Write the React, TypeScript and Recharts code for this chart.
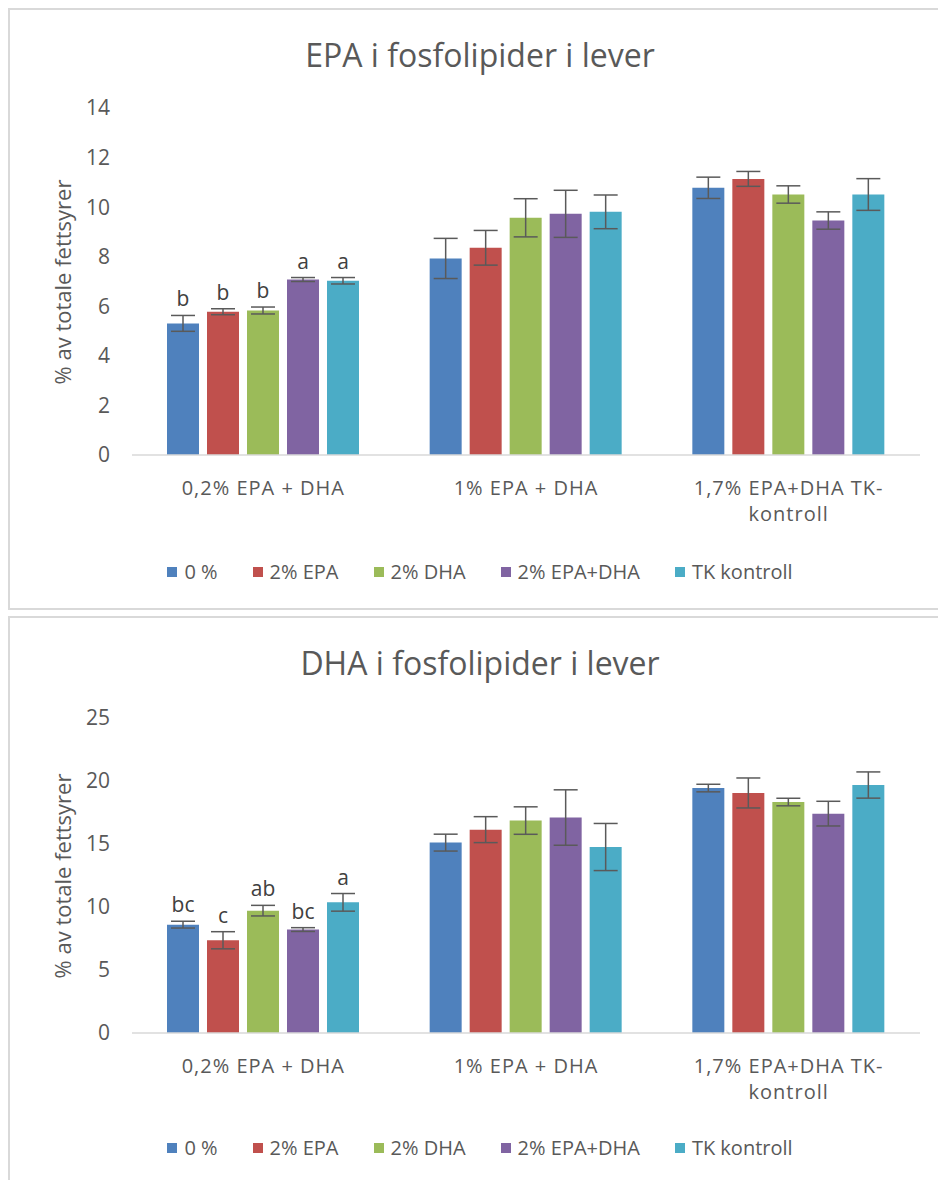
import React from "react";
import { BarChart, Bar, XAxis, YAxis, ErrorBar, LabelList, Legend } from "recharts";

const categories = ["0,2% EPA + DHA", "1% EPA + DHA", "1,7% EPA+DHA TK-kontroll"];
const seriesNames = ["0 %", "2% EPA", "2% DHA", "2% EPA+DHA", "TK kontroll"];
const seriesColors = ["#4F81BD", "#C0504D", "#9BBB59", "#8064A2", "#4BACC6"];

// one row per series, one value per category
const epaMeans = [
  [5.31, 7.93, 10.78],
  [5.78, 8.36, 11.14],
  [5.83, 9.57, 10.51],
  [7.08, 9.73, 9.46],
  [7.03, 9.81, 10.51],
];
const epaErrors = [
  [0.32, 0.81, 0.43],
  [0.12, 0.7, 0.3],
  [0.14, 0.77, 0.35],
  [0.08, 0.95, 0.35],
  [0.13, 0.68, 0.64],
];
const epaLetters = [
  ["b", "", ""],
  ["b", "", ""],
  ["b", "", ""],
  ["a", "", ""],
  ["a", "", ""],
];
const epaTicks = [0, 2, 4, 6, 8, 10, 12, 14];

const dhaMeans = [
  [8.6, 15.11, 19.44],
  [7.36, 16.14, 19.05],
  [9.71, 16.86, 18.33],
  [8.21, 17.1, 17.41],
  [10.37, 14.76, 19.68],
];
const dhaErrors = [
  [0.27, 0.67, 0.3],
  [0.68, 1.03, 1.19],
  [0.42, 1.09, 0.3],
  [0.15, 2.2, 0.98],
  [0.7, 1.87, 1.04],
];
const dhaLetters = [
  ["bc", "", ""],
  ["c", "", ""],
  ["ab", "", ""],
  ["bc", "", ""],
  ["a", "", ""],
];
const dhaTicks = [0, 5, 10, 15, 20, 25];

const FONT = "'Open Sans', sans-serif";
const TEXT = "#595959";

function buildRows(means: number[][], errs: number[][], letters: string[][]) {
  return categories.map((cat, ci) => {
    const row: Record<string, string | number> = { cat };
    seriesNames.forEach((_, si) => {
      row[`v${si}`] = means[si][ci];
      row[`e${si}`] = errs[si][ci];
      row[`l${si}`] = letters[si][ci];
    });
    return row;
  });
}

function CatTick({ x, y, payload }: any) {
  const lines = String(payload.value).split(/(?<=-)/);
  return (
    <text
      x={x}
      y={y}
      textAnchor="middle"
      fill={TEXT}
      fontSize={20}
      fontFamily={FONT}
      style={{ letterSpacing: 1 }}
    >
      {lines.map((l, i) => (
        <tspan key={i} x={x} dy={i === 0 ? 40 : 26}>
          {l}
        </tspan>
      ))}
    </text>
  );
}

function LegendRow({ payload }: any) {
  // keep the series order (Recharts sorts the payload by name)
  const items = [...(payload || [])].sort(
    (a: any, b: any) => seriesNames.indexOf(a.value) - seriesNames.indexOf(b.value)
  );
  return (
    <div style={{ display: "flex", justifyContent: "center", fontFamily: FONT, fontSize: 20, color: TEXT }}>
      {items.map((p: any, i: number) => (
        <span
          key={i}
          style={{ display: "inline-flex", alignItems: "center", marginRight: i < items.length - 1 ? 35 : 0 }}
        >
          <span style={{ width: 10, height: 10, background: p.color, marginRight: 7, display: "inline-block" }} />
          {p.value}
        </span>
      ))}
    </div>
  );
}

interface PanelProps {
  title: string;
  top: number;
  height: number;
  means: number[][];
  errs: number[][];
  letters: string[][];
  ticks: number[];
  plotTop: number;
  plotBottom: number;
  legendTop: number;
}

function Panel({ title, top, height, means, errs, letters, ticks, plotTop, plotBottom, legendTop }: PanelProps) {
  const rows = buildRows(means, errs, letters);
  const W = 940;
  return (
    <div
      style={{
        position: "absolute",
        left: 8,
        top,
        width: W,
        height,
        border: "2px solid #d9d9d9",
        background: "#fff",
      }}
    >
      <div
        style={{
          position: "absolute",
          left: 0,
          top: 25,
          width: W,
          textAlign: "center",
          fontFamily: FONT,
          fontSize: 32,
          lineHeight: "40px",
          color: TEXT,
        }}
      >
        {title}
      </div>
      <div
        style={{
          position: "absolute",
          left: 52,
          top: (plotTop + plotBottom) / 2,
          transform: "translate(-50%, -50%) rotate(-90deg)",
          whiteSpace: "nowrap",
          fontFamily: FONT,
          fontSize: 22,
          color: TEXT,
        }}
      >
        % av totale fettsyrer
      </div>
      <BarChart
        width={W}
        height={height}
        data={rows}
        margin={{ top: plotTop, right: 30, left: 0, bottom: height - plotBottom - 60 }}
        barSize={32}
        barGap={8}
        style={{ position: "absolute", left: 0, top: 0 }}
      >
        <XAxis
          dataKey="cat"
          height={60}
          tick={<CatTick />}
          tickLine={false}
          tickSize={0}
          tickMargin={0}
          interval={0}
          axisLine={{ stroke: "#d9d9d9", strokeWidth: 1.5 }}
        />
        <YAxis
          width={122}
          domain={[0, ticks[ticks.length - 1]]}
          ticks={ticks}
          interval={0}
          axisLine={false}
          tickLine={false}
          tickSize={0}
          tickMargin={22}
          tick={{ fill: TEXT, fontSize: 21, fontFamily: FONT }}
        />
        <Legend
          verticalAlign="middle"
          align="center"
          content={<LegendRow />}
          wrapperStyle={{ top: legendTop, left: 0, width: W }}
        />
        {seriesNames.map((name, si) => (
          <Bar key={name} dataKey={`v${si}`} name={name} fill={seriesColors[si]} isAnimationActive={false}>
            <ErrorBar dataKey={`e${si}`} width={12} stroke="#5a5a5a" strokeWidth={1.5} direction="y" />
            <LabelList
              dataKey={`l${si}`}
              content={(p: any) => {
                const { x, y, width, height: h, value, index } = p;
                if (!value) return null;
                const errPx = (errs[si][index] * h) / means[si][index];
                return (
                  <text
                    x={x + width / 2}
                    y={y - errPx - 9}
                    textAnchor="middle"
                    fill="#404040"
                    fontSize={21}
                    fontFamily={FONT}
                  >
                    {value}
                  </text>
                );
              }}
            />
          </Bar>
        ))}
      </BarChart>
    </div>
  );
}

export default function App() {
  return (
    <div
      style={{
        position: "fixed",
        left: 0,
        top: 0,
        width: 938,
        height: 1180,
        overflow: "hidden",
        background: "#fff",
      }}
    >
      <Panel
        title="EPA i fosfolipider i lever"
        top={8}
        height={598}
        means={epaMeans}
        errs={epaErrors}
        letters={epaLetters}
        ticks={epaTicks}
        plotTop={98}
        plotBottom={445}
        legendTop={548}
      />
      <Panel
        title="DHA i fosfolipider i lever"
        top={616}
        height={600}
        means={dhaMeans}
        errs={dhaErrors}
        letters={dhaLetters}
        ticks={dhaTicks}
        plotTop={100}
        plotBottom={415}
        legendTop={516}
      />
    </div>
  );
}
